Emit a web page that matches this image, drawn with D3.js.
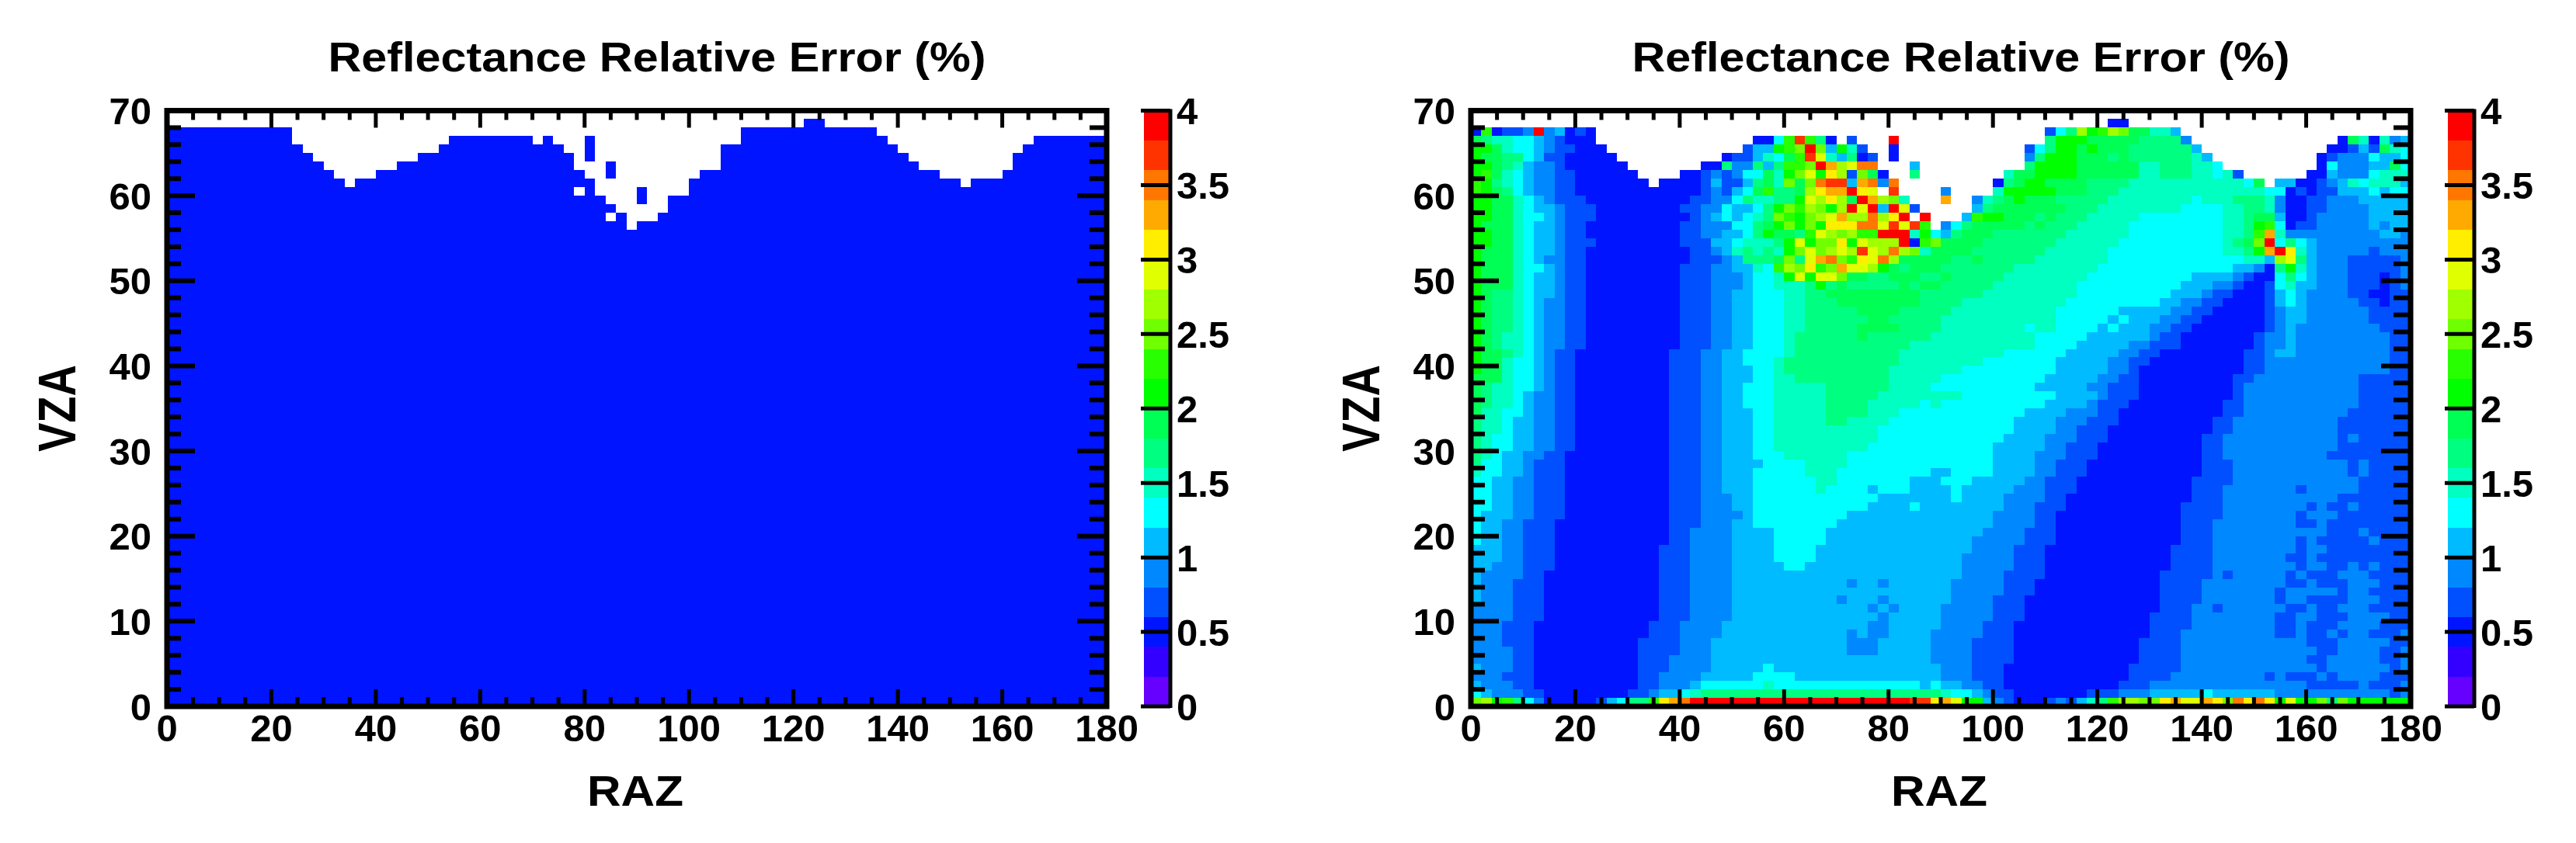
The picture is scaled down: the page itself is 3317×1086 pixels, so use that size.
<!DOCTYPE html>
<html><head><meta charset="utf-8">
<style>html,body{margin:0;padding:0;background:#fff}svg{display:block}
text{font-family:"Liberation Sans",Arial,sans-serif;font-weight:700;fill:#000}</style>
<script src="https://cdn.jsdelivr.net/npm/d3@7"></script></head><body>
<script>
const titleText = "Reflectance Relative Error (%)";
const xLabel = "RAZ", yLabel = "VZA";
const xMajor = [0,20,40,60,80,100,120,140,160,180];
const yMajor = [0,10,20,30,40,50,60,70];
const barMajor = [0,0.5,1,1.5,2,2.5,3,3.5,4];
const levelColors = ["#6600ff","#3300ff","#0014ff","#0050ff","#0088ff","#00bbff","#00ffff","#00ffc0","#00ff80","#00ff55","#00ff00","#28ff00","#70ff00","#a0ff00","#e0ff00","#ffee00","#ffaa00","#ff7700","#ff3300","#ff0000"];
const levelCodes = "0123456789abcdefghij";
// left panel: every retrieved cell sits in one level (0.4-0.6)
const leftLevel = 2;
const leftTop = [68,68,68,68,68,68,68,68,68,68,68,68,66,65,64,63,62,61,62,62,63,63,64,64,65,65,66,67,67,67,67,67,67,67,67,66,67,66,65,63,62,60,59,58,56,57,57,58,60,60,62,63,63,66,66,68,68,68,68,68,68,69,69,68,68,68,68,68,67,66,65,64,63,63,62,62,61,62,62,62,63,65,66,67,67,67,67,67,67,67];
const leftHoles = [[39,60],[42,57]];
const leftIslands = [[40,66],[40,65],[40,64],[42,63],[42,62],[45,60],[45,59]];
// right panel: rows from VZA 68 to 0; each token = level code + column where the run ends ('.' = no data)
const rightRows = [
".61 263",
"21 b2 23 35 46 j7 48 59 210 311 212 .55 356 657 858 d59 a60 b61 d62 c63 965 767 568",
"91 82 74 66 57 48 39 212 .27 229 630 b31 i32 b33 834 235 .36 337 .40 j41 .55 856 a59 964 868 469 .83 284 985 786 287 788 489 590",
"a2 93 74 66 57 48 310 213 .26 327 529 a30 b31 c32 j33 c34 535 a36 737 338 .40 241 .53 354 655 856 a58 959 a60 963 869 570 .82 284 385 586 387 988 789 690",
"a1 93 85 66 57 39 214 .24 225 327 528 729 630 931 b32 i33 e34 735 536 837 238 339 .40 241 .53 454 855 a58 961 862 963 869 770 571 .81 282 383 486 687 589 690",
"a2 93 84 75 56 48 39 215 .22 224 825 427 828 529 830 b32 c33 j34 g35 d36 e37 h39 .42 543 .53 854 a58 964 766 869 771 672 .81 282 683 486 588 989 690",
"a1 b2 93 74 65 56 48 310 216 .20 222 323 424 325 426 628 929 730 a31 c32 e33 a34 f35 d36 337 c38 939 240 .42 843 .51 752 954 a58 964 766 869 771 672 773 374 .80 282 583 486 687 790",
"b1 a2 83 74 65 56 48 310 217 .18 222 323 524 326 527 828 929 730 c31 932 c33 h34 i36 537 g38 h39 440 h41 .50 251 852 953 a55 959 863 774 675 976 .77 579 281 382 483 584 785 686 789 590",
"b1 a2 93 84 65 56 48 310 222 323 424 325 526 627 928 b29 831 932 d33 f34 g36 j37 f38 e39 .40 i41 .45 446 .50 751 a56 959 862 776 678 279 380 281 383 586 687 588 690",
"a2 94 75 66 57 48 311 221 323 425 626 827 729 831 a32 e33 d34 f35 d36 937 j38 g39 d40 c41 742 .45 g46 .48 449 750 851 952 a53 956 861 769 670 773 876 777 478 280 382 485 590",
"a2 94 75 66 58 49 312 220 322 424 625 527 628 829 a30 c31 b32 d33 c34 a35 d36 j37 e38 j39 540 j41 e42 343 .48 549 850 957 860 768 672 774 876 777 478 280 382 486 590",
"a2 94 75 67 58 49 312 221 322 423 524 625 526 627 728 829 c30 b31 a32 c33 d34 e35 g36 d38 h39 d40 f41 j42 .43 j44 .47 548 b49 a51 954 855 956 859 764 672 774 875 977 578 280 381 486 590",
"a1 94 75 66 58 49 311 220 322 425 627 828 929 a30 c31 a32 c33 a34 f37 h39 e40 i41 e42 i43 b44 .45 446 647 848 953 854 955 858 763 672 774 875 a76 b77 678 279 381 486 587 488 590",
"a2 94 75 66 58 49 311 220 322 424 526 627 828 a29 931 832 b33 e34 d35 c36 d37 b39 j42 743 a44 645 546 847 950 857 763 672 774 875 b76 g77 778 487 589 490",
"a2 94 75 66 58 49 312 220 323 525 626 729 830 a31 e32 a33 c35 f36 a37 e38 d41 j42 243 b44 c45 949 856 762 672 773 874 975 c76 j77 678 879 680 581 490",
"a1 94 75 66 58 49 311 221 323 424 525 726 827 728 829 730 a31 c32 e33 c34 d35 e36 d37 i38 e39 d40 h41 d42 c43 744 948 855 761 672 774 875 a76 g77 j78 f79 780 581 486 387 490",
"a1 94 75 66 57 49 311 221 324 425 526 829 930 c31 832 e33 g34 h35 c36 b37 f38 e39 h40 d41 946 848 949 854 761 674 776 577 d78 e79 880 581 484 389 490",
"a1 94 75 67 58 49 311 220 323 425 527 728 629 b30 d31 c32 f33 b34 c35 g36 e38 d39 a40 941 842 945 852 760 673 575 476 277 878 a79 780 581 484 389 490",
"a1 94 75 66 58 49 311 220 323 426 527 629 730 a31 e32 a33 e35 c36 938 840 943 845 946 851 759 669 573 474 375 277 678 879 680 581 484 387 288 389 490",
"a1 94 75 66 58 49 311 220 323 426 527 629 732 833 a34 835 936 841 942 843 945 850 758 668 571 473 374 276 377 678 779 581 484 387 288 389 490",
"a1 92 84 75 66 58 49 311 220 323 425 527 630 732 834 943 849 758 667 570 471 373 276 377 578 679 580 484 386 288 390",
"a1 92 84 75 66 57 49 311 220 323 425 527 630 732 835 943 847 757 666 568 470 372 276 377 578 679 580 485 387 288 390",
"a1 92 84 75 66 57 49 311 220 323 425 527 630 732 837 941 846 756 662 567 469 371 276 377 478 580 486 390",
"a1 92 84 75 66 57 49 311 220 323 425 527 630 732 838 940 845 756 661 562 663 566 468 370 276 377 478 580 486 390",
"a1 92 84 75 66 57 49 311 220 323 425 527 630 732 837 941 845 753 654 756 660 561 662 565 467 369 276 377 478 579 487 390",
"a1 92 83 75 66 57 49 311 220 323 425 527 630 731 837 938 844 754 659 565 466 368 275 376 478 579 488 390",
"a1 92 83 75 66 57 49 311 220 323 425 527 630 731 842 754 658 563 465 368 275 376 478 579 488 390",
"a1 93 84 75 66 57 48 310 219 322 424 526 630 731 841 751 657 562 464 366 274 376 477 579 488 390",
"a1 93 74 66 57 48 310 219 322 424 526 629 730 841 749 656 561 463 365 274 376 488 390",
"a1 93 74 66 57 48 310 219 322 424 527 629 730 840 747 656 561 463 364 274 376 488 390",
"93 74 66 57 48 310 219 322 424 527 629 731 840 745 655 560 462 364 273 375 485 390",
"91 82 74 66 57 48 310 219 322 424 526 629 734 840 744 654 559 461 364 273 374 485 390",
"91 82 74 65 56 48 310 219 322 424 526 629 734 839 747 656 560 461 364 273 374 485 390",
"91 82 74 65 56 48 310 219 322 424 526 629 734 838 743 644 745 655 559 460 363 272 374 485 390",
"91 73 65 56 48 310 219 322 424 527 629 734 838 741 653 557 460 362 272 374 484 390",
"81 73 64 56 48 310 219 322 424 527 629 734 836 740 652 556 459 362 271 373 483 390",
"81 73 64 56 48 310 219 322 424 527 629 739 652 556 458 361 271 373 483 390",
"81 72 64 56 48 310 219 322 424 527 629 739 651 555 458 361 270 372 483 384 485 390",
"81 72 64 56 48 310 219 322 424 527 629 738 650 555 457 360 270 372 483 390",
"81 72 63 55 47 39 219 322 424 527 630 736 650 554 457 360 270 372 482 390",
"81 63 55 46 39 219 322 424 528 632 736 650 554 456 359 270 373 484 385 486 390",
"71 63 55 46 39 219 322 424 527 632 735 644 546 650 554 456 359 270 373 484 385 486 390",
"62 54 46 39 219 322 424 527 633 735 642 545 648 553 455 358 269 373 485 390",
"62 54 46 39 219 322 424 527 633 734 638 539 642 546 647 552 455 358 269 372 479 380 485 390",
"62 54 46 39 219 322 425 527 639 546 647 551 455 357 269 372 483 390",
"62 54 46 39 219 322 425 527 638 542 643 551 454 357 268 372 480 381 482 384 485 390",
"61 54 46 39 219 322 426 527 636 550 454 356 268 372 479 380 483 390",
"61 53 45 38 219 322 425 527 635 550 454 356 268 371 479 381 482 390",
"61 53 45 38 219 321 425 529 634 549 453 356 268 371 482 385 486 390",
"61 53 45 38 219 321 425 529 634 548 453 356 268 371 479 380 481 386 487 390",
"53 45 38 218 321 425 529 633 548 452 355 267 371 479 380 482 390",
"53 45 38 218 321 425 529 633 547 452 355 267 371 478 380 481 390",
"52 45 38 218 321 425 530 632 547 452 355 267 371 479 380 482 384 485 386 487 390",
"51 45 37 218 321 425 547 451 355 266 371 472 373 478 379 480 383 486 390",
"51 44 37 218 321 425 536 437 539 440 546 451 354 266 370 478 380 481 384 487 390",
"51 44 37 218 321 425 546 451 354 266 370 477 378 483 384 486 390",
"51 44 37 218 321 425 535 436 539 440 546 450 353 266 370 477 378 480 384 487 390",
"44 37 218 321 425 538 439 540 441 545 450 353 266 369 471 372 478 380 481 383 486 390",
"44 37 218 321 425 539 440 545 450 353 265 369 477 379 481 384 488 390",
"43 36 217 320 424 538 440 545 449 352 265 369 477 379 480 383 487 390",
"43 36 217 320 424 536 437 538 440 544 449 352 265 368 477 379 480 382 483 384 486 389 490",
"43 36 216 320 423 536 439 544 448 352 264 368 480 383 488 390",
"44 36 216 320 423 536 439 544 448 352 264 368 481 383 487 389 490",
"44 36 216 319 423 544 448 352 264 368 480 382 487 389 490",
"51 44 36 216 319 423 528 629 545 448 351 263 368 481 382 488 389 490",
"43 36 216 318 422 527 631 545 448 351 263 367 476 377 478 381 482 383 487 390",
"51 44 36 216 318 421 522 628 729 643 544 645 547 449 351 262 365 480 385 486 389 490",
"61 52 45 37 215 317 418 520 621 722 845 746 648 549 450 352 259 362 465 570 671 577 488 389 490",
"c1 d2 a3 b4 85 66 47 212 313 514 615 817 b18 f19 g20 h21 j42 i44 f45 g46 e47 a49 550 451 352 255 356 457 358 559 760 861 b62 d64 c66 f67 g68 e70 g71 f72 c73 h74 f75 h76 f77 a78 e79 a81 c82 883 c84 a90"
];

const W=3317,H=1086;
const svg=d3.select("body").append("svg").attr("width",W).attr("height",H).attr("viewBox",`0 0 ${W} ${H}`);
const top_=142.5,bot=910,fs=49,cellDeg=2;
const color=d3.scaleQuantize().domain([0,4]).range(levelColors);
const levelValue=i=>(i+0.5)*0.2;

function leftCells(){
  const out=[];
  leftTop.forEach((t,c)=>{for(let v=0;v<t;v++){
    if(!leftHoles.some(h=>h[0]===c&&h[1]===v)) out.push({c,v,val:levelValue(leftLevel)});
  }});
  leftIslands.forEach(([c,v])=>out.push({c,v,val:levelValue(leftLevel)}));
  return out;
}
function rightCells(){
  const out=[];
  rightRows.forEach((row,i)=>{
    const v=68-i; let start=0;
    row.split(" ").forEach(tok=>{
      const code=tok[0], end=+tok.slice(1);
      if(code!=="."){const lvl=levelCodes.indexOf(code);
        for(let c=start;c<end;c++) out.push({c,v,val:levelValue(lvl)});}
      start=end;
    });
  });
  return out;
}
function panel(left,right,cells){
  const x=d3.scaleLinear().domain([0,180]).range([left,right]);
  const y=d3.scaleLinear().domain([0,70]).range([bot,top_]);
  const g=svg.append("g");
  g.append("g").attr("shape-rendering","crispEdges").selectAll("rect").data(cells).join("rect")
    .attr("x",d=>x(d.c*cellDeg)).attr("width",d=>x((d.c+1)*cellDeg)-x(d.c*cellDeg))
    .attr("y",d=>y(d.v+1)).attr("height",d=>y(d.v)-y(d.v+1))
    .attr("fill",d=>color(d.val));
  const tickStyle=(sel,w)=>{sel.select(".domain").remove();sel.selectAll("line").attr("stroke","#000").attr("stroke-width",w);};
  const lab=sel=>sel.selectAll("text").style("font-size",fs+"px");
  const minorX=d3.range(0,181,5).filter(d=>d%20), minorY=d3.range(0,71,2).filter(d=>d%10);
  // x axes
  g.append("g").attr("transform",`translate(0,${bot})`).call(d3.axisBottom(x).offset(0).tickValues(xMajor).tickFormat(d3.format("d")).tickSizeInner(-22).tickSizeOuter(0).tickPadding(10)).call(tickStyle,5).call(lab);
  g.append("g").attr("transform",`translate(0,${bot})`).call(d3.axisBottom(x).offset(0).tickValues(minorX).tickFormat("").tickSizeInner(-12).tickSizeOuter(0)).call(tickStyle,5);
  g.append("g").attr("transform",`translate(0,${top_})`).call(d3.axisTop(x).offset(0).tickValues(xMajor.slice(1,-1)).tickFormat("").tickSizeInner(-22).tickSizeOuter(0)).call(tickStyle,5);
  g.append("g").attr("transform",`translate(0,${top_})`).call(d3.axisTop(x).offset(0).tickValues(minorX).tickFormat("").tickSizeInner(-12).tickSizeOuter(0)).call(tickStyle,5);
  // y axes
  g.append("g").attr("transform",`translate(${left},0)`).call(d3.axisLeft(y).offset(0).tickValues(yMajor).tickFormat(d3.format("d")).tickSizeInner(-36).tickSizeOuter(0).tickPadding(20)).call(tickStyle,6).call(lab).call(s=>s.selectAll("text").attr("dy",".36em"));
  g.append("g").attr("transform",`translate(${left},0)`).call(d3.axisLeft(y).offset(0).tickValues(minorY).tickFormat("").tickSizeInner(-18).tickSizeOuter(0)).call(tickStyle,6);
  g.append("g").attr("transform",`translate(${right},0)`).call(d3.axisRight(y).offset(0).tickValues(yMajor.slice(1,-1)).tickFormat("").tickSizeInner(-38).tickSizeOuter(0)).call(tickStyle,6);
  g.append("g").attr("transform",`translate(${right},0)`).call(d3.axisRight(y).offset(0).tickValues(minorY).tickFormat("").tickSizeInner(-22).tickSizeOuter(0)).call(tickStyle,6);
  g.append("rect").attr("x",left).attr("y",top_).attr("width",right-left).attr("height",bot-top_).attr("fill","none").attr("stroke","#000").attr("stroke-width",7);
  // titles
  const cx=(left+right)/2;
  g.append("text").attr("x",cx+26).attr("y",92).attr("text-anchor","middle").attr("textLength",847).attr("lengthAdjust","spacingAndGlyphs").style("font-size","54px").text(titleText);
  g.append("text").attr("x",cx-2).attr("y",1038).attr("text-anchor","middle").attr("textLength",124).attr("lengthAdjust","spacingAndGlyphs").style("font-size","56px").text(xLabel);
  g.append("text").attr("transform",`translate(${left-118},526) rotate(-90) scale(1,1.22)`).attr("text-anchor","middle").style("font-size","56px").text(yLabel);
  // colour bar
  const bx0=right+48,bx1=right+80;
  const bar=d3.scaleLinear().domain([0,4]).range([bot,top_]);
  g.append("g").attr("shape-rendering","crispEdges").selectAll("rect").data(levelColors).join("rect")
    .attr("x",bx0).attr("width",bx1-bx0)
    .attr("y",(d,i)=>bar((i+1)*0.2)).attr("height",(d,i)=>bar(i*0.2)-bar((i+1)*0.2)).attr("fill",d=>d);
  g.append("g").attr("transform",`translate(${bx1+2},0)`).call(d3.axisRight(bar).offset(0).tickValues(barMajor).tickFormat(d=>String(d)).tickSizeInner(-38).tickSizeOuter(0).tickPadding(8)).call(tickStyle,5).call(lab).call(s=>s.selectAll("text").attr("dy",".36em"));
  g.append("line").attr("x1",bx1+2).attr("x2",bx1+2).attr("y1",top_-2).attr("y2",bot+2).attr("stroke","#000").attr("stroke-width",5);
}
panel(215,1425,leftCells());
panel(1894,3104,rightCells());
</script></body></html>
